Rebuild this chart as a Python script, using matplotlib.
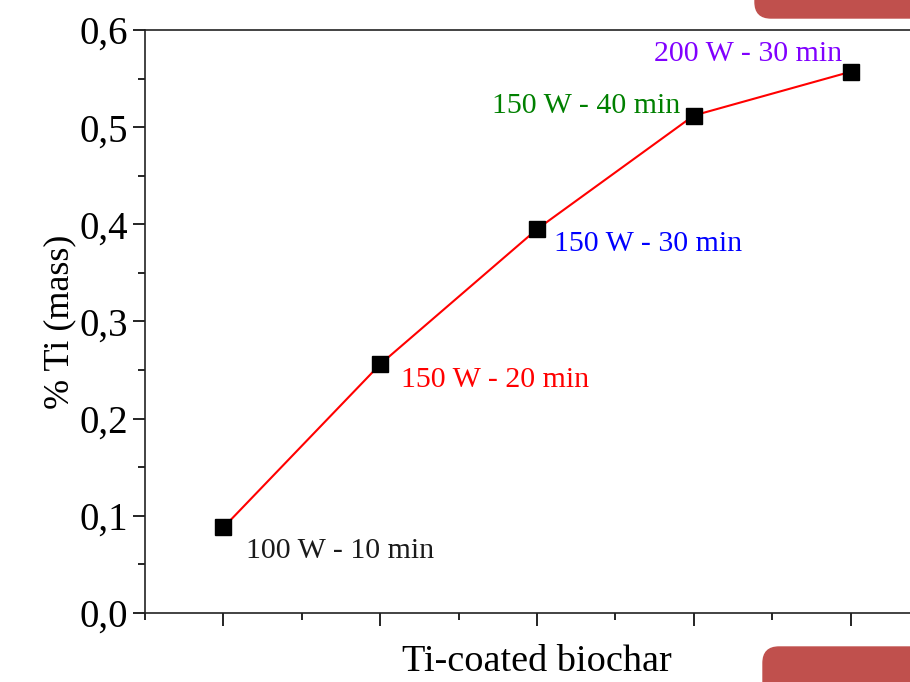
import numpy as np
import matplotlib.pyplot as plt
from matplotlib.patches import FancyBboxPatch
from matplotlib.ticker import FuncFormatter, MultipleLocator

plt.rcParams['font.family'] = ['Liberation Serif', 'DejaVu Serif']

# data
samples = [1, 2, 3, 4, 5]
ti_mass = [0.088, 0.256, 0.395, 0.512, 0.557]
labels = ['100 W - 10 min', '150 W - 20 min', '150 W - 30 min',
          '150 W - 40 min', '200 W - 30 min']
label_colors = ['#1a1a1a', '#ff0000', '#0000ff', '#008000', '#8000ff']
# label offsets in points and alignment
offsets = [(16, -17), (15, -11), (12, -11), (-10, 7), (-6, 13)]
aligns = ['left', 'left', 'left', 'right', 'right']

fig = plt.figure(figsize=(9.1, 6.82), dpi=100)

# slide decorations (pixel coords, y down)
deco = fig.add_axes([0, 0, 1, 1], zorder=0)
deco.set_xlim(0, 910)
deco.set_ylim(682, 0)
deco.axis('off')
deco.add_patch(FancyBboxPatch((755, -30), 250, 48, boxstyle='round,pad=0,rounding_size=16',
                              color='#c0504d'))
deco.add_patch(FancyBboxPatch((763, 647), 250, 80, boxstyle='round,pad=0,rounding_size=16',
                              color='#c0504d'))

ax = fig.add_axes([145/910, 69/682, 784/910, 583/682], zorder=1)
ax.patch.set_alpha(0)

ax.plot(samples, ti_mass, color='#ff0000', lw=1.5, zorder=2)
ax.plot(samples, ti_mass, 's', color='black', ms=12, zorder=3)

for x, y, t, c, off, ha in zip(samples, ti_mass, labels, label_colors, offsets, aligns):
    ax.annotate(t, (x, y), xytext=off, textcoords='offset points',
                ha=ha, va='center', color=c, fontsize=21.5)

ax.set_xlim(0.5, 5.5)
ax.set_ylim(0, 0.6)
ax.set_xticks(samples)
ax.xaxis.set_minor_locator(MultipleLocator(0.5))
ax.set_xticklabels([])
ax.yaxis.set_major_locator(MultipleLocator(0.1))
ax.yaxis.set_minor_locator(MultipleLocator(0.05))
ax.yaxis.set_major_formatter(FuncFormatter(lambda v, p: f'{v:.1f}'.replace('.', ',')))

ax.tick_params(which='major', direction='out', length=9, width=1.2, labelsize=28)
ax.tick_params(which='minor', direction='out', length=5, width=1.2)
ax.tick_params(axis='x', which='both', top=False)
for s in ax.spines.values():
    s.set_linewidth(1.2)
    s.set_color('#222222')

ax.set_xlabel('Ti-coated biochar', fontsize=27.5, labelpad=10)
ax.set_ylabel('% Ti (mass)', fontsize=26, labelpad=2)

fig.savefig('out.png', dpi=100)
